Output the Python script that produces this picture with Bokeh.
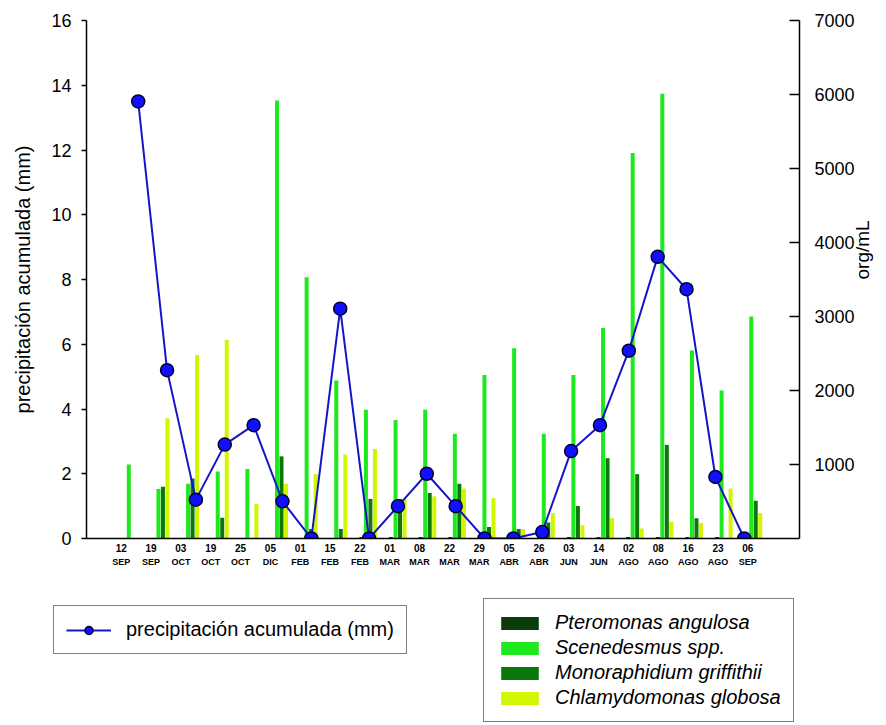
from math import pi
from bokeh.plotting import figure
from bokeh.layouts import column
from bokeh.models import (Range1d, LinearAxis, FixedTicker, ColumnDataSource, Legend,
                          LegendItem)
from bokeh.transform import dodge
from bokeh.embed import file_html
from bokeh.resources import INLINE

# ---------------- data ----------------
days = ["12", "19", "03", "19", "25", "05", "01", "15", "22", "01", "08",
        "22", "29", "05", "26", "03", "14", "02", "08", "16", "23", "06"]
months = ["SEP", "SEP", "OCT", "OCT", "OCT", "DIC", "FEB", "FEB", "FEB", "MAR", "MAR",
          "MAR", "MAR", "ABR", "ABR", "JUN", "JUN", "AGO", "AGO", "AGO", "AGO", "SEP"]
precip = [13.5, 5.2, 1.2, 2.9, 3.5, 1.15, 0.0, 7.1, 0.0, 1.0, 2.0,
          1.0, 0.0, 0.0, 0.2, 2.7, 3.5, 5.8, 8.7, 7.7, 1.9, 0.0]
pteromonas = [0, 0, 0, 0, 0, 0, 0, 0, 20, 20, 20,
              20, 20, 20, 20, 20, 20, 20, 20, 20, 20, 20]
scenedesmus = [1000, 670, 740, 905, 940, 5920, 3530, 2135, 1740, 1600, 1740,
               1415, 2210, 2570, 1415, 2210, 2845, 5210, 6010, 2540, 2000, 3000]
monoraphidium = [0, 700, 810, 280, 0, 1110, 130, 130, 535, 535, 615,
                 740, 155, 130, 215, 440, 1085, 870, 1265, 275, 0, 510]
chlamydomonas = [0, 1625, 2480, 2685, 470, 740, 870, 1135, 1210, 535, 570,
                 675, 545, 130, 345, 180, 275, 135, 225, 210, 675, 345]
species = ["Pteromonas angulosa", "Scenedesmus spp.", "Monoraphidium griffithii",
           "Chlamydomonas globosa"]
left_ticks = [0, 2, 4, 6, 8, 10, 12, 14, 16]
right_ticks = [1000, 2000, 3000, 4000, 5000, 6000, 7000]

n = len(days)
idx = list(range(n))
src = ColumnDataSource(dict(idx=idx, pter=pteromonas, scen=scenedesmus,
                            mono=monoraphidium, chla=chlamydomonas, prec=precip))

FONT = "Liberation Sans"
LINE_COLOR = "#1515c8"
DOT_FILL = "#1010ff"
DOT_LINE = "#000033"

p = figure(width=886, height=590, output_backend="svg", toolbar_location=None,
           x_axis_type=None, y_axis_type=None,
           x_range=Range1d(-1.503, 22.552), y_range=Range1d(0, 16),
           min_border_left=86, min_border_right=87, min_border_top=20,
           min_border_bottom=52)
p.extra_x_ranges = {"pts": Range1d(-1.791, 22.914), "lab": Range1d(-1.163, 22.731)}
p.extra_y_ranges = {"org": Range1d(0, 7000)}
p.outline_line_color = None
p.background_fill_color = "white"
p.border_fill_color = "white"

# ---------------- bars ----------------
bw = 0.135
d = 0.152
cols = [("pter", "#0b3d0b", -1.5),
        ("scen", "#1ee81e", -0.5),
        ("mono", "#0a780a", 0.5),
        ("chla", "#d2f500", 1.5)]
for field, color, k in cols:
    p.vbar(x=dodge("idx", k * d, range=p.x_range), top=field, width=bw, bottom=0,
           source=src, y_range_name="org", fill_color=color, line_color=None)

# ---------------- precipitation line ----------------
p.line(x="idx", y="prec", source=src, x_range_name="pts",
       line_color=LINE_COLOR, line_width=2)
p.scatter(x="idx", y="prec", source=src, x_range_name="pts", marker="circle",
          size=13, fill_color=DOT_FILL, line_color=DOT_LINE, line_width=1.5)

# ---------------- axes ----------------
ya = LinearAxis(ticker=FixedTicker(ticks=left_ticks), axis_label="precipitación acumulada (mm)")
ya.major_tick_out = 5
ya.major_tick_in = 0
ya.minor_tick_line_color = None
ya.major_label_standoff = 10
ya.major_label_text_font = FONT
ya.major_label_text_font_size = "18px"
ya.major_label_text_color = "black"
ya.axis_label_text_font = FONT
ya.axis_label_text_font_size = "20px"
ya.axis_label_text_font_style = "normal"
ya.axis_label_text_color = "black"
ya.axis_label_standoff = 14
ya.axis_line_width = 1.5
ya.major_tick_line_width = 1.5
p.add_layout(ya, "left")

ra = LinearAxis(y_range_name="org", ticker=FixedTicker(ticks=right_ticks),
                axis_label="org/mL")
ra.major_tick_out = 0
ra.major_tick_in = 10
ra.minor_tick_line_color = None
ra.major_label_standoff = 15
ra.major_label_text_font = FONT
ra.major_label_text_font_size = "18px"
ra.major_label_text_color = "black"
ra.axis_label_text_font = FONT
ra.axis_label_text_font_size = "19px"
ra.axis_label_text_font_style = "normal"
ra.axis_label_text_color = "black"
ra.axis_label_standoff = 5
ra.axis_label_orientation = pi / 2
ra.axis_line_width = 1.5
ra.major_tick_line_width = 1.5
p.add_layout(ra, "right")

xa = LinearAxis(x_range_name="lab", ticker=FixedTicker(ticks=idx),
                major_label_overrides={i: days[i] for i in idx})
xa.major_tick_in = 0
xa.major_tick_out = 0
xa.major_tick_line_color = None
xa.minor_tick_line_color = None
xa.major_label_standoff = 5
xa.major_label_text_font = FONT
xa.major_label_text_font_size = "10px"
xa.major_label_text_font_style = "bold"
xa.major_label_text_color = "black"
xa.axis_line_width = 1.5
p.add_layout(xa, "below")

xm = LinearAxis(x_range_name="lab", ticker=FixedTicker(ticks=idx),
                major_label_overrides={i: months[i] for i in idx})
xm.major_tick_in = 0
xm.major_tick_out = 0
xm.major_tick_line_color = None
xm.minor_tick_line_color = None
xm.axis_line_color = None
xm.major_label_standoff = 2
xm.major_label_text_font = FONT
xm.major_label_text_font_size = "9px"
xm.major_label_text_font_style = "bold"
xm.major_label_text_color = "black"
p.add_layout(xm, "below")

# ---------------- legend strip (below the chart) ----------------
q = figure(width=886, height=135, output_backend="svg", toolbar_location=None,
           x_axis_type=None, y_axis_type=None,
           x_range=Range1d(0, 1), y_range=Range1d(0, 1),
           min_border_left=0, min_border_right=0, min_border_top=0, min_border_bottom=0)
if "frame_align" in q.properties():
    q.frame_align = False
if "frame_align" in p.properties():
    p.frame_align = False
q.outline_line_color = None
q.grid.visible = False
q.background_fill_color = "white"
q.border_fill_color = "white"

nan = float("nan")
lr2 = q.line(x=[nan], y=[nan], line_color=LINE_COLOR, line_width=2)
cr2 = q.scatter(x=[nan], y=[nan], marker="circle", size=13, fill_color=DOT_FILL,
                line_color=DOT_LINE, line_width=1.5)
bar_items = []
for (field, color, k), name in zip(cols, species):
    r = q.vbar(x=[nan], top=[nan], width=1, fill_color=color, line_color=None)
    bar_items.append(LegendItem(label=name, renderers=[r]))

leg1 = Legend(items=[LegendItem(label="precipitación acumulada (mm)", renderers=[lr2, cr2])],
              location=(53, 71))
leg2 = Legend(items=bar_items, location=(483, 3))
for lg in (leg1, leg2):
    lg.border_line_color = "black"
    lg.border_line_width = 1.5
    lg.background_fill_color = "white"
    lg.background_fill_alpha = 1.0
    lg.label_text_font = FONT
    lg.label_text_font_size = "20px"
    lg.label_text_color = "black"
    lg.margin = 0
    lg.padding = 12
leg1.glyph_width = 45
leg1.glyph_height = 20
leg1.label_standoff = 15
leg2.glyph_width = 47
leg2.glyph_height = 16
leg2.label_height = 23
leg2.spacing = 2
leg2.label_standoff = 12
leg2.label_text_font_style = "italic"
q.add_layout(leg1)
q.add_layout(leg2)

layout = column(p, q, spacing=0)
open("out.html", "w").write(file_html(layout, INLINE))
